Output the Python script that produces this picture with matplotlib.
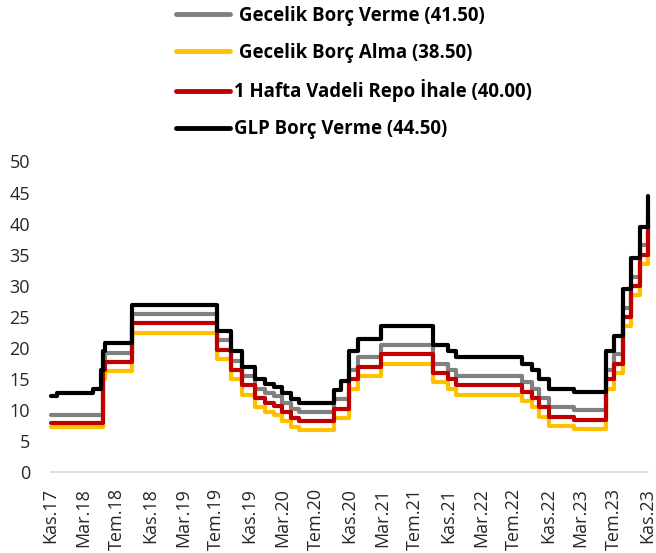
import matplotlib
matplotlib.use('Agg')
import matplotlib.pyplot as plt
import pandas as pd

plt.rcParams['font.family'] = ['Open Sans', 'DejaVu Sans']

# policy rate change dates (last entry = end of data) and the rate levels from each date on
change_dates = ['2017-11-20', '2017-12-14', '2018-04-25', '2018-05-23', '2018-06-01',
                '2018-06-07', '2018-09-13', '2019-07-25', '2019-09-12', '2019-10-24',
                '2019-12-12', '2020-01-16', '2020-02-19', '2020-03-17', '2020-04-22',
                '2020-05-21', '2020-09-24', '2020-10-22', '2020-11-19', '2020-12-24',
                '2021-03-18', '2021-09-23', '2021-11-18', '2021-12-16', '2022-08-18',
                '2022-09-22', '2022-10-20', '2022-11-24', '2023-02-23', '2023-06-22',
                '2023-07-20', '2023-08-24', '2023-09-21', '2023-10-26', '2023-11-23',
                '2023-11-24']
on_lending = [9.25, 9.25, 9.25, 9.25, 18.00, 19.25, 25.50, 21.25, 18.00, 15.50,
              13.50, 12.75, 12.25, 11.25, 10.25, 9.75, 11.75, 11.75, 16.50, 18.50,
              20.50, 17.50, 16.50, 15.50, 14.50, 13.50, 12.00, 10.50, 10.00, 16.50,
              19.00, 26.50, 31.50, 36.50, 41.50, 41.50]
on_borrowing = [7.25, 7.25, 7.25, 7.25, 15.00, 16.25, 22.50, 18.25, 15.00, 12.50,
                10.50, 9.75, 9.25, 8.25, 7.25, 6.75, 8.75, 8.75, 13.50, 15.50,
                17.50, 14.50, 13.50, 12.50, 11.50, 10.50, 9.00, 7.50, 7.00, 13.50,
                16.00, 23.50, 28.50, 33.50, 38.50, 38.50]
repo_1w = [8.00, 8.00, 8.00, 8.00, 16.50, 17.75, 24.00, 19.75, 16.50, 14.00,
           12.00, 11.25, 10.75, 9.75, 8.75, 8.25, 10.25, 10.25, 15.00, 17.00,
           19.00, 16.00, 15.00, 14.00, 13.00, 12.00, 10.50, 9.00, 8.50, 15.00,
           17.50, 25.00, 30.00, 35.00, 40.00, 40.00]
llw_lending = [12.25, 12.75, 13.50, 16.50, 19.50, 20.75, 27.00, 22.75, 19.50, 17.00,
               15.00, 14.25, 13.75, 12.75, 11.75, 11.25, 13.25, 14.75, 19.50, 21.50,
               23.50, 20.50, 19.50, 18.50, 17.50, 16.50, 15.00, 13.50, 13.00, 19.50,
               22.00, 29.50, 34.50, 39.50, 44.50, 44.50]

series_labels = [' Gecelik Borç Verme (41.50)', ' Gecelik Borç Alma (38.50)',
                 '1 Hafta Vadeli Repo İhale (40.00)', 'GLP Borç Verme (44.50)']
tick_labels = ['Kas.17', 'Mar.18', 'Tem.18', 'Kas.18', 'Mar.19', 'Tem.19', 'Kas.19',
               'Mar.20', 'Tem.20', 'Kas.20', 'Mar.21', 'Tem.21', 'Kas.21', 'Mar.22',
               'Tem.22', 'Kas.22', 'Mar.23', 'Tem.23', 'Kas.23']

dates = pd.to_datetime(change_dates)
colors = ['#808080', '#FFC000', '#C00000', '#000000']

fig = plt.figure(figsize=(6.56, 5.53), dpi=100)
ax = fig.add_axes([0.0773, 0.1456, 0.9110, 0.5624])

for vals, col, lab in zip([on_lending, on_borrowing, repo_1w, llw_lending], colors, series_labels):
    ax.plot(dates, vals, drawstyle='steps-post', color=col, linewidth=3.0,
            solid_capstyle='round', solid_joinstyle='round', label=lab, clip_on=False)

ax.set_xlim(dates[0], dates[-1])
ax.set_ylim(0, 50)
ax.set_yticks(range(0, 51, 5))
ticks = pd.date_range(dates[0], periods=len(tick_labels), freq=pd.DateOffset(months=4))
ax.set_xticks(ticks)
ax.set_xticklabels(tick_labels, rotation=90, fontsize=13, color='#262626')
for lbl in ax.get_yticklabels():
    lbl.set_fontsize(13)
    lbl.set_color('#262626')
ax.tick_params(axis='y', length=0, pad=15)
ax.tick_params(axis='x', length=0, pad=11)

for s in ['top', 'right', 'left']:
    ax.spines[s].set_visible(False)
ax.spines['bottom'].set_color('#D9D9D9')
ax.spines['bottom'].set_linewidth(1.2)

leg = ax.legend(loc='upper left', bbox_to_anchor=(176 / 656, 1 - 6 / 553),
                bbox_transform=fig.transFigure, frameon=False, borderpad=0,
                borderaxespad=0, handlelength=2.9, handletextpad=0.2,
                labelspacing=0.9, prop={'weight': 'bold', 'size': 13.4})
for h in leg.get_lines():
    h.set_linewidth(3.5)

fig.savefig('out.png', dpi=100, facecolor='white')
